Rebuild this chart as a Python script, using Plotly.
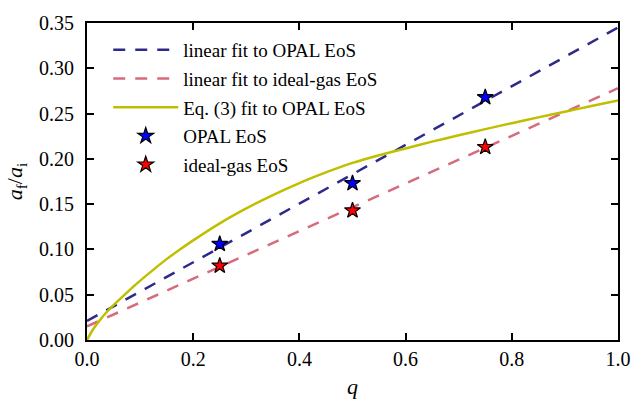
import plotly.graph_objects as go

# Data
q_pts = [0.25, 0.50, 0.75]
opal_vals = [0.106, 0.173, 0.268]
ideal_vals = [0.082, 0.143, 0.213]

# linear fits (endpoints)
fit_q = [0.0, 1.0]
opal_fit = [0.021, 0.345]
ideal_fit = [0.015, 0.278]

# Eq. (3) fit curve
eq3_q = [0.0, 0.01, 0.023, 0.035, 0.051, 0.07, 0.09, 0.12, 0.15, 0.175, 0.20,
         0.25, 0.30, 0.35, 0.40, 0.45, 0.50, 0.55, 0.60, 0.65, 0.70, 0.75,
         0.80, 0.85, 0.90, 0.95, 1.0]
eq3_y = [0.0, 0.0105, 0.021, 0.0295, 0.039, 0.0495, 0.0603, 0.0752, 0.0893, 0.100, 0.110,
         0.1288, 0.1453, 0.160, 0.1733, 0.185, 0.1955, 0.204, 0.2115, 0.219, 0.226, 0.2328,
         0.2394, 0.2458, 0.2521, 0.2583, 0.2645]

x_ticks = [0.0, 0.2, 0.4, 0.6, 0.8, 1.0]
y_ticks = [0.00, 0.05, 0.10, 0.15, 0.20, 0.25, 0.30, 0.35]

FONT = "Liberation Serif, Times New Roman, serif"

fig = go.Figure()
fig.add_trace(go.Scatter(x=fit_q, y=opal_fit, mode="lines", name="linear fit to OPAL EoS",
                         line=dict(color="#2e2a8c", width=2.5, dash="12px,10px"), legendgroup="a"))
fig.add_trace(go.Scatter(x=fit_q, y=ideal_fit, mode="lines", name="linear fit to ideal-gas EoS",
                         line=dict(color="#d66b7d", width=2.5, dash="12px,10px"), legendgroup="b"))
fig.add_trace(go.Scatter(x=eq3_q, y=eq3_y, mode="lines", name="Eq. (3) fit to OPAL EoS",
                         line=dict(color="#bfbf00", width=2.5, shape="spline", smoothing=0.5), legendgroup="c"))
fig.add_trace(go.Scatter(x=q_pts, y=opal_vals, mode="markers", name="OPAL EoS",
                         marker=dict(symbol="star", size=12, color="#0000ff",
                                     line=dict(color="black", width=1.2)), legendgroup="d"))
fig.add_trace(go.Scatter(x=q_pts, y=ideal_vals, mode="markers", name="ideal-gas EoS",
                         marker=dict(symbol="star", size=12, color="#ff0000",
                                     line=dict(color="black", width=1.2)), legendgroup="e"))

axis_common = dict(showgrid=False, zeroline=False, showline=True, linecolor="black", linewidth=2,
                   mirror="ticks", ticks="inside", ticklen=7, tickwidth=1.5, tickcolor="black",
                   tickfont=dict(family=FONT, size=20, color="black"))

fig.update_layout(
    width=643, height=407,
    margin=dict(l=87, r=14, t=18, b=64),
    paper_bgcolor="white", plot_bgcolor="white",
    font=dict(family=FONT, size=20, color="black"),
    xaxis=dict(range=[0, 1], tickvals=x_ticks, ticktext=[f"{v:.1f}" for v in x_ticks],
               title=dict(text="<i>q</i>", font=dict(family=FONT, size=22), standoff=10), **axis_common),
    yaxis=dict(range=[0, 0.35], tickvals=y_ticks, ticktext=[f"{v:.2f}" for v in y_ticks],
               ticklabelstandoff=7,
               title=dict(text="<i>a</i><sub>f</sub>/<i>a</i><sub>i</sub>", font=dict(family=FONT, size=22),
                          standoff=10), **axis_common),
    legend=dict(x=0.04, y=0.975, xanchor="left", yanchor="top", bgcolor="rgba(0,0,0,0)",
                font=dict(family=FONT, size=19, color="black"), traceorder="grouped",
                tracegroupgap=1, itemwidth=65),
    showlegend=True,
)

fig.write_html("out.html")
